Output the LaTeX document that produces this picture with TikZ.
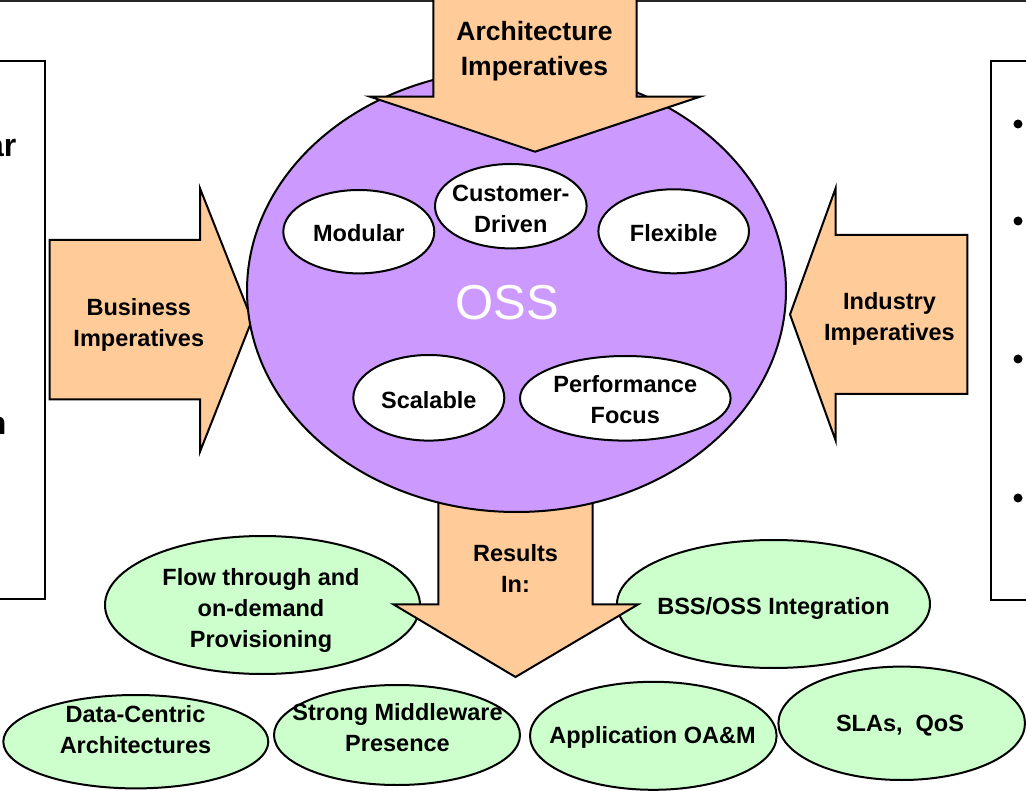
\documentclass[tikz,border=0pt]{standalone}
\usepackage{fontspec}
\setmainfont{Liberation Sans}
\usetikzlibrary{shapes.geometric}
\definecolor{peach}{RGB}{255,204,153}
\definecolor{lilac}{RGB}{204,153,255}
\definecolor{mint}{RGB}{204,255,204}
\begin{document}
\begin{tikzpicture}[x=1pt,y=-1pt,
  outline/.style={draw=black, line width=2pt},
  bigarrow/.style={outline, fill=peach, line join=miter},
  lbl/.style={font=\bfseries\fontsize{23.5}{31}\selectfont, align=center, inner sep=0pt, text=black},
  biglbl/.style={font=\bfseries\fontsize{26.5}{35}\selectfont, align=center, inner sep=0pt},
  cuttext/.style={font=\bfseries\fontsize{32}{38}\selectfont, inner sep=0pt},
  oval/.style={ellipse, outline, inner sep=0pt},
  whiteoval/.style={oval, fill=white},
  greenoval/.style={oval, fill=mint},
]
\useasboundingbox (0,0) rectangle (1026,791);

% top rule
\draw[line width=2pt, draw=black!85] (-5,1) -- (1031,1);

% side boxes (cut by the page edge)
\draw[outline] (-20,61) -- (45,61) -- (45,599) -- (-20,599);
\draw[outline] (1046,61) -- (991,61) -- (991,600) -- (1046,600);
\node[cuttext, anchor=base east] (lefta) at (16.5,157) {ar};
\node[cuttext, anchor=base east] (leftb) at (6.5,435) {n};
\fill (1018,124) circle[radius=4.5];
\fill (1018,221) circle[radius=4.5];
\fill (1018,359) circle[radius=4.5];
\fill (1018,498) circle[radius=4.5];

% side arrows
\draw[bigarrow] (49.5,240) -- (200,240) -- (200,188.3) -- (252,320) -- (200,451.7) -- (200,399.3) -- (49.5,399.3) -- cycle;
\draw[bigarrow] (967.3,235) -- (835.7,235) -- (835.7,188) -- (790,314.5) -- (835.7,440.7) -- (835.7,394) -- (967.3,394) -- cycle;
\node[lbl] (business) at (138.8,325) {Business\\Imperatives};
\node[lbl] (industry) at (889.5,318.5) {Industry\\Imperatives};

% result ovals touched by the bottom arrow
\node[greenoval, minimum width=315pt, minimum height=138pt] (flowoval) at (262.5,605) {};
\node[greenoval, minimum width=313pt, minimum height=128pt] (bssoval) at (773.5,604) {};

% bottom arrow
\draw[bigarrow] (438.3,470) -- (592.7,470) -- (592.7,604.3) -- (638.3,604.3) -- (515.5,677) -- (393.3,604.3) -- (438.3,604.3) -- cycle;
\node[lbl] (results) at (515.5,568.5) {Results\\In:};

% OSS
\node[oval, fill=lilac, minimum width=539pt, minimum height=442.8pt] (oss) at (516.5,290.6) {};
\node[font=\fontsize{49}{55}\selectfont, text=white, inner sep=0pt] (osstext) at (507,303) {OSS};

% top arrow
\draw[bigarrow] (433.3,-2) -- (636.7,-2) -- (636.7,96.7) -- (700,96.7) -- (535,151.7) -- (370,96.7) -- (433.3,96.7) -- cycle;
\node[biglbl] (architecture) at (534.5,51.5) {Architecture\\Imperatives};

% inner qualities
\node[whiteoval, minimum width=151pt, minimum height=83.4pt] (modoval) at (358.8,231.7) {};
\node[whiteoval, minimum width=151.6pt, minimum height=84.4pt] (custoval) at (510.8,206.2) {};
\node[whiteoval, minimum width=150.6pt, minimum height=84pt] (flexoval) at (673.7,231.3) {};
\node[whiteoval, minimum width=151pt, minimum height=85.6pt] (scaloval) at (428.8,397.8) {};
\node[whiteoval, minimum width=210.6pt, minimum height=84.6pt] (perfoval) at (625.3,398.3) {};
\node[lbl] (modular) at (358.8,233.3) {Modular};
\node[lbl] (customer) at (510.8,208.5) {Customer-\\Driven};
\node[lbl] (flexible) at (673.7,233.3) {Flexible};
\node[lbl] (scalable) at (428.8,400) {Scalable};
\node[lbl] (performance) at (625.3,399.2) {Performance\\Focus};

% bottom row
\node[greenoval, minimum width=265pt, minimum height=93.4pt] (dataoval) at (135.8,741.7) {};
\node[greenoval, minimum width=246pt, minimum height=100pt] (strongoval) at (397,735) {};
\node[greenoval, minimum width=246.6pt, minimum height=108pt] (appoval) at (653.3,735.8) {};
\node[greenoval, minimum width=246.6pt, minimum height=113.4pt] (slaoval) at (901.7,723.3) {};

\node[lbl] (flow) at (261,610) {Flow through and\\on-demand\\Provisioning};
\node[lbl] (bss) at (773.5,608) {BSS/OSS Integration};
\node[lbl] (data) at (135.5,730) {Data-Centric\\Architectures};
\node[lbl] (strong) at (397.5,727.5) {Strong Middleware\\Presence};
\node[lbl] (app) at (652.5,737) {Application OA\&M};
\node[lbl] (sla) at (900,726) {SLAs,\ \ QoS};
\end{tikzpicture}
\end{document}
